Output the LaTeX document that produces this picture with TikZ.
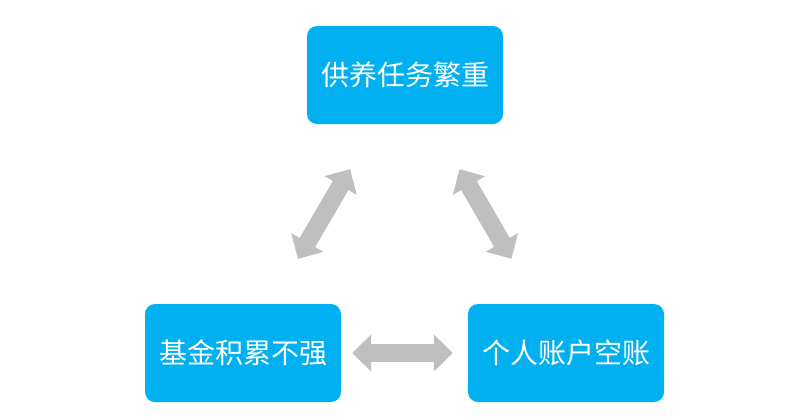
\documentclass[tikz,border=0pt]{standalone}
\usepackage{fontspec}
\newfontfamily\cjk{Noto Sans CJK SC}
\usepackage{tikz}
\usetikzlibrary{arrows.meta}
\definecolor{boxblue}{RGB}{0,176,240}
\definecolor{arrowgray}{RGB}{191,191,191}

\begin{document}
\begin{tikzpicture}[x=1pt,y=-1pt,
  box/.style={fill=boxblue, rounded corners=10pt, minimum width=196pt,
    minimum height=98pt, inner sep=0pt, text=white,
    font=\cjk\fontsize{28}{28}\selectfont},
  link/.style={draw=arrowgray, line width=18pt,
    {Triangle[width=36pt,length=19pt]}-{Triangle[width=36pt,length=19pt]}}]
\useasboundingbox (0,0) rectangle (795,418);
\node[box] (burden) at (405,75) {供养任务繁重};
\node[box] (fund) at (243,353) {基金积累不强};
\node[box] (empty) at (566,353) {个人账户空账};
\draw[link, shorten <=52pt, shorten >=52pt] (fund) -- (burden);
\draw[link, shorten <=52pt, shorten >=52pt] (empty) -- (burden);
\draw[link, shorten <=11pt, shorten >=15pt] (fund) -- (empty);
\end{tikzpicture}
\end{document}
